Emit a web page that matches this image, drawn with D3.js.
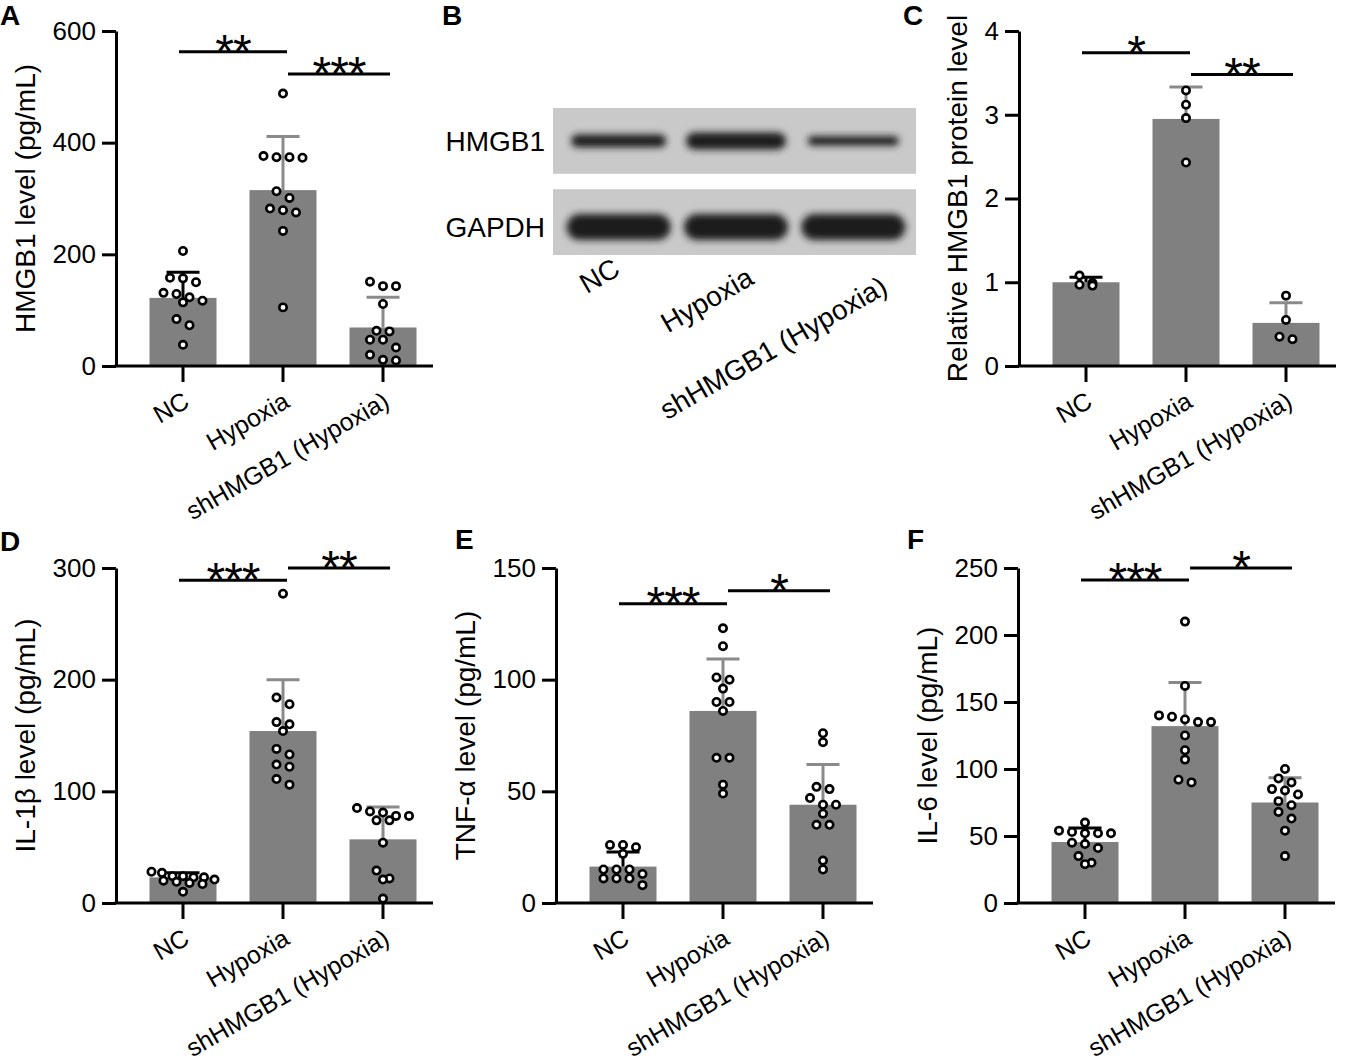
<!DOCTYPE html>
<html><head><meta charset="utf-8">
<script src="https://cdn.jsdelivr.net/npm/d3@7"></script>
<style>
body{margin:0;background:#fff}
text{font-family:Arial,"Liberation Sans",sans-serif;fill:#000}
</style>
</head><body>
<svg id="chart" width="1356" height="1064"></svg>
<script>
const categories = ["NC", "Hypoxia", "shHMGB1 (Hypoxia)"];

// Panel A: HMGB1 level (pg/mL)
const hmgb1Mean = [122, 315, 69];
const hmgb1SD = [46, 96, 54];
const hmgb1NC = [206, 158, 157, 150, 131, 129, 123, 117, 114, 84, 73, 38];
const hmgb1Hyp = [488, 376, 374, 373, 374, 313, 301, 282, 279, 275, 242, 105];
const hmgb1Sh = [151, 143, 143, 111, 63, 62, 47, 47, 33, 20, 11, 10];
const hmgb1Ticks = [0, 200, 400, 600];
const hmgb1Sig = [{from: 0, to: 1, level: 563, label: "**"}, {from: 1, to: 2, level: 523, label: "***"}];

// Panel B: western blot band intensities
const blotRows = ["HMGB1", "GAPDH"];
const hmgb1Band = [0.75, 1.0, 0.55];
const gapdhBand = [1.0, 1.0, 1.0];

// Panel C: relative HMGB1 protein level
const relMean = [1.0, 2.95, 0.515];
const relSD = [0.06, 0.38, 0.24];
const relNC = [0.96, 0.99, 0.97, 1.08];
const relHyp = [3.29, 3.12, 2.96, 2.43];
const relSh = [0.84, 0.55, 0.32, 0.35];
const relTicks = [0, 1, 2, 3, 4];
const relSig = [{from: 0, to: 1, level: 3.74, label: "*"}, {from: 1, to: 2, level: 3.48, label: "**"}];

// Panel D: IL-1β
const il1bMean = [23, 154, 57];
const il1bSD = [4, 46, 29];
const il1bNC = [23, 28, 21, 23, 17, 27, 20, 10, 24, 18, 19, 24];
const il1bHyp = [277, 184, 178, 162, 160, 154, 133, 138, 122, 124, 106, 111];
const il1bSh = [78, 82, 81, 85, 74, 74, 78, 54, 29, 22, 21, 4];
const il1bTicks = [0, 100, 200, 300];
const il1bSig = [{from: 0, to: 1, level: 289, label: "***"}, {from: 1, to: 2, level: 300, label: "**"}];

// Panel E: TNF-α
const tnfMean = [16.3, 86, 44];
const tnfSD = [6.5, 23.3, 18];
const tnfNC = [26, 22, 25, 26, 13, 15, 15, 15, 8, 11, 11, 11];
const tnfHyp = [123, 115, 100, 101, 96, 90, 90, 86, 65, 65, 53, 49];
const tnfSh = [76, 72, 52, 51, 47, 44, 44, 40, 35, 35, 19, 15];
const tnfTicks = [0, 50, 100, 150];
const tnfSig = [{from: 0, to: 1, level: 134, label: "***"}, {from: 1, to: 2, level: 139.8, label: "*"}];

// Panel F: IL-6
const il6Mean = [45.5, 132, 75];
const il6SD = [10.5, 32.5, 18.5];
const il6NC = [52, 54, 60, 52, 52, 53, 45, 44, 41, 35, 29, 30];
const il6Hyp = [210, 162, 137, 135, 135, 140, 139, 125, 114, 107, 90, 92];
const il6Sh = [100, 90, 93, 85, 84, 81, 73, 76, 68, 63, 54, 35];
const il6Ticks = [0, 50, 100, 150, 200, 250];
const il6Sig = [{from: 0, to: 1, level: 241, label: "***"}, {from: 1, to: 2, level: 250, label: "*"}];

const svg = d3.select("#chart");
const BAR = "#808080", ERR = "#8a8a8a";

function panelLetter(txt, x, y) {
  svg.append("text").attr("x", x).attr("y", y).attr("font-size", 28).attr("font-weight", "bold").text(txt);
}

// arrange dots in symmetric rows (GraphPad-like scatter)
function arrange(values, y, cx) {
  const sorted = values.slice().sort((a, b) => b - a);
  const rows = [];
  sorted.forEach(v => {
    const py = y(v);
    const last = rows[rows.length - 1];
    if (last && Math.abs(py - last.start) < 8) last.items.push(py);
    else rows.push({start: py, items: [py]});
  });
  const out = [];
  rows.forEach(r => {
    const n = r.items.length, s = n > 5 ? 10.5 : 13;
    r.items.forEach((py, i) => out.push({x: cx + (i - (n - 1) / 2) * s, y: py}));
  });
  return out;
}

function barPanel(o) {
  const g = svg.append("g");
  const y = d3.scaleLinear().domain(o.domain).range([o.yBottom, o.yTop]);
  const x = d3.scalePoint().domain(categories).range([o.axisX + 17, o.axisX + 317]).padding(0.5);
  const bw = x.step() * 0.67;

  // bars
  g.selectAll("rect.bar").data(o.means).join("rect")
    .attr("x", (d, i) => x(categories[i]) - bw / 2).attr("width", bw)
    .attr("y", d => y(d)).attr("height", d => y(0) - y(d)).attr("fill", BAR);

  // error bars
  o.means.forEach((m, i) => {
    const cx = x(categories[i]), top = y(m + o.sds[i]);
    const col = i === 0 ? "#000" : ERR;
    g.append("line").attr("x1", cx).attr("x2", cx).attr("y1", y(m)).attr("y2", top)
      .attr("stroke", col).attr("stroke-width", 3);
    g.append("line").attr("x1", cx - 16.5).attr("x2", cx + 16.5).attr("y1", top).attr("y2", top)
      .attr("stroke", col).attr("stroke-width", 3);
  });

  // dots
  o.points.forEach((vals, i) => {
    g.selectAll(null).data(arrange(vals, y, x(categories[i]))).join("circle")
      .attr("cx", d => d.x).attr("cy", d => d.y).attr("r", 3.7)
      .attr("fill", "#fff").attr("stroke", "#000").attr("stroke-width", 2.6);
  });

  // y axis
  const ya = d3.axisLeft(y).tickValues(o.ticks).tickFormat(d3.format("d"))
    .tickSize(14).tickSizeOuter(0).tickPadding(6);
  const yg = g.append("g").attr("transform", `translate(${o.axisX},0)`).call(ya);
  yg.select(".domain").attr("stroke-width", 3);
  yg.selectAll(".tick line").attr("stroke-width", 3);
  yg.selectAll(".tick text").attr("font-size", 26).attr("font-family", "Arial, Liberation Sans").attr("fill", "#000");
  let minLeft = Infinity;
  yg.selectAll(".tick text").each(function () {
    const b = this.getBBox();
    minLeft = Math.min(minLeft, o.axisX - 20 - b.width);
  });

  // x axis
  g.append("line").attr("x1", o.axisX - 1.5).attr("x2", o.axisX + 317).attr("y1", y(0)).attr("y2", y(0))
    .attr("stroke", "#000").attr("stroke-width", 3);
  categories.forEach(c => {
    g.append("line").attr("x1", x(c)).attr("x2", x(c)).attr("y1", y(0)).attr("y2", y(0) + 16)
      .attr("stroke", "#000").attr("stroke-width", 3);
    g.append("text").attr("text-anchor", "end").attr("font-size", 25)
      .attr("transform", `translate(${x(c) + 8},${y(0) + 40}) rotate(-30)`).text(c);
  });

  // y label
  g.append("text").attr("text-anchor", "middle").attr("font-size", 28)
    .attr("transform", `translate(${minLeft - 18},${(o.yTop + o.yBottom) / 2}) rotate(-90)`).text(o.ylabel);

  // significance
  o.sig.forEach(s => {
    const x1 = x(categories[s.from]) + (s.from === 0 ? -4 : 5);
    const x2 = x(categories[s.to]) + (s.to === 2 ? 7 : 4);
    const ly = y(s.level);
    g.append("line").attr("x1", x1).attr("x2", x2).attr("y1", ly).attr("y2", ly)
      .attr("stroke", "#000").attr("stroke-width", 3);
    g.append("text").attr("x", (x1 + x2) / 2).attr("y", ly + 16).attr("text-anchor", "middle")
      .attr("font-size", 48).attr("letter-spacing", "-1px").text(s.label);
  });
}

// Panel A
panelLetter("A", 0, 25);
barPanel({axisX: 116, yTop: 31, yBottom: 366, domain: [0, 600], ticks: hmgb1Ticks,
  means: hmgb1Mean, sds: hmgb1SD, points: [hmgb1NC, hmgb1Hyp, hmgb1Sh],
  ylabel: "HMGB1 level (pg/mL)", sig: hmgb1Sig});

// Panel C
panelLetter("C", 903, 25);
barPanel({axisX: 1019, yTop: 31, yBottom: 366, domain: [0, 4], ticks: relTicks,
  means: relMean, sds: relSD, points: [relNC, relHyp, relSh],
  ylabel: "Relative HMGB1 protein level", sig: relSig});

// Panel D
panelLetter("D", 0, 551);
barPanel({axisX: 116, yTop: 568, yBottom: 903, domain: [0, 300], ticks: il1bTicks,
  means: il1bMean, sds: il1bSD, points: [il1bNC, il1bHyp, il1bSh],
  ylabel: "IL-1β level (pg/mL)", sig: il1bSig});

// Panel E
panelLetter("E", 455, 549);
barPanel({axisX: 556, yTop: 568, yBottom: 903, domain: [0, 150], ticks: tnfTicks,
  means: tnfMean, sds: tnfSD, points: [tnfNC, tnfHyp, tnfSh],
  ylabel: "TNF-α level (pg/mL)", sig: tnfSig});

// Panel F
panelLetter("F", 907, 549);
barPanel({axisX: 1018, yTop: 568, yBottom: 903, domain: [0, 250], ticks: il6Ticks,
  means: il6Mean, sds: il6SD, points: [il6NC, il6Hyp, il6Sh],
  ylabel: "IL-6 level (pg/mL)", sig: il6Sig});

// Panel B: western blot
panelLetter("B", 442, 25);
(function () {
  const defs = svg.append("defs");
  defs.append("filter").attr("id", "blur").attr("x", "-30%").attr("y", "-100%").attr("width", "160%").attr("height", "300%")
    .append("feGaussianBlur").attr("stdDeviation", 3.8);
  const lanes = d3.scaleBand().domain(categories).range([560, 912]);
  const rowY = d3.scaleBand().domain(blotRows).range([108, 255]).paddingInner(0.19);
  const thick = {HMGB1: d3.scaleLinear([0, 1], [0, 17]), GAPDH: d3.scaleLinear([0, 1], [0, 26])};
  const wide = {HMGB1: d3.scaleLinear([0, 1], [80, 100]), GAPDH: d3.scaleLinear([0, 1], [0, 104])};
  const bandData = {HMGB1: hmgb1Band, GAPDH: gapdhBand};
  const g = svg.append("g");
  blotRows.forEach(r => {
    g.append("rect").attr("x", 553).attr("width", 363).attr("y", rowY(r)).attr("height", rowY.bandwidth())
      .attr("fill", "#c9c9c9");
    const cy = rowY(r) + rowY.bandwidth() / 2 + (r === "GAPDH" ? 5 : 0);
    bandData[r].forEach((v, i) => {
      const w = wide[r](v), h = thick[r](v);
      g.append("rect").attr("x", lanes(categories[i]) + lanes.bandwidth() / 2 - w / 2).attr("width", w)
        .attr("y", cy - h / 2).attr("height", h).attr("rx", h / 2)
        .attr("fill", "#1e1e1e").attr("filter", "url(#blur)");
    });
    svg.append("text").attr("x", 545).attr("y", cy).attr("dy", "0.35em").attr("text-anchor", "end")
      .attr("font-size", 28).text(r);
  });
  categories.forEach((c, i) => {
    svg.append("text").attr("text-anchor", "end").attr("font-size", 28)
      .attr("transform", `translate(${lanes(c) + lanes.bandwidth() / 2 + 3 + i * 16.5},${274 + i * 9}) rotate(-30)`).text(c);
  });
})();
</script>
</body></html>
